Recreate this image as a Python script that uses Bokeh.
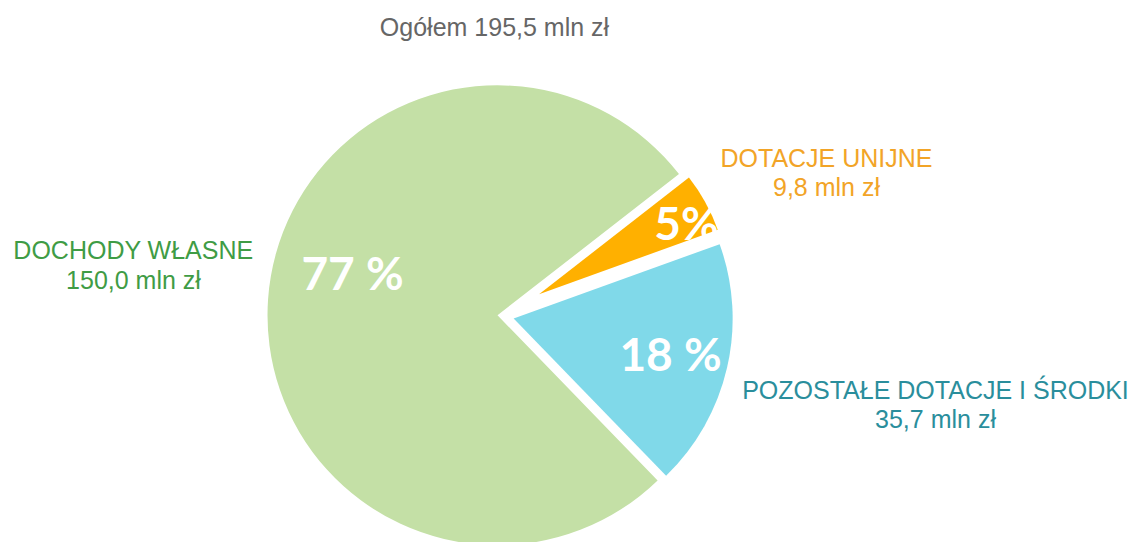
import math
from bokeh.plotting import figure
from bokeh.models import ColumnDataSource, Range1d
from bokeh.core.properties import value
from bokeh.embed import file_html
from bokeh.resources import INLINE

# ---- data ----
categories = ["DOCHODY WŁASNE", "POZOSTAŁE DOTACJE I ŚRODKI", "DOTACJE UNIJNE"]
values_mln = [150.0, 35.7, 9.8]
pct_labels = ["77 %", "18 %", "5%"]
amount_labels = ["150,0 mln zł", "35,7 mln zł", "9,8 mln zł"]
title_text = "Ogółem 195,5 mln zł"

# ---- style ----
slice_colors = ["#C4E0A6", "#80D9E9", "#FFB000"]
text_colors = ["#3F9C45", "#2A8E9C", "#F2A427"]
explode = [3, 13.5, 44]
radii = [230, 219, 190]
start_deg = 37.9

W, H = 1130, 542
p = figure(width=W, height=H, output_backend="svg", toolbar_location=None,
           x_range=Range1d(0, W), y_range=Range1d(544 - H, 544),
           min_border=0)
p.axis.visible = False
p.grid.visible = False
p.outline_line_color = None
p.background_fill_color = "white"

def sy(y_screen):
    return 544 - y_screen

bx, by = 500, sy(315)
total = sum(values_mln)
starts, ends, xs, ys = [], [], [], []
a = math.radians(start_deg)
for v, d in zip(values_mln, explode):
    span = 2 * math.pi * v / total
    mid = a + span / 2
    starts.append(a)
    ends.append(a + span)
    xs.append(bx + d * math.cos(mid))
    ys.append(by + d * math.sin(mid))
    a += span

src = ColumnDataSource(dict(x=xs, y=ys, r=radii, s=starts, e=ends, c=slice_colors))
p.wedge(x="x", y="y", radius="r", start_angle="s", end_angle="e",
        fill_color="c", line_color=None, source=src)

# percent labels inside slices
pct_pos = [(352, 272), (670, 353), (686, 222)]
p.text(x=[q[0] for q in pct_pos], y=[sy(q[1]) for q in pct_pos], text=pct_labels,
       text_color="white", text_font=value("Lato"), text_font_style="bold",
       text_font_size="46px", text_align="center", text_baseline="middle")

# category labels outside
name_pos = [(133, 249), (935, 389), (826, 157)]
amt_pos = [(133, 279), (935, 418), (826, 186)]
for i in range(3):
    p.text(x=[name_pos[i][0]], y=[sy(name_pos[i][1])], text=[categories[i]],
           text_color=text_colors[i], text_font=value("Liberation Sans"),
           text_font_size="25px", text_align="center", text_baseline="middle")
    p.text(x=[amt_pos[i][0]], y=[sy(amt_pos[i][1])], text=[amount_labels[i]],
           text_color=text_colors[i], text_font=value("Liberation Sans"),
           text_font_size="25px", text_align="center", text_baseline="middle")

p.text(x=[494], y=[sy(26)], text=[title_text], text_color="#666666",
       text_font=value("Liberation Sans"), text_font_size="25px",
       text_align="center", text_baseline="middle")

open("out.html", "w").write(file_html(p, INLINE))
